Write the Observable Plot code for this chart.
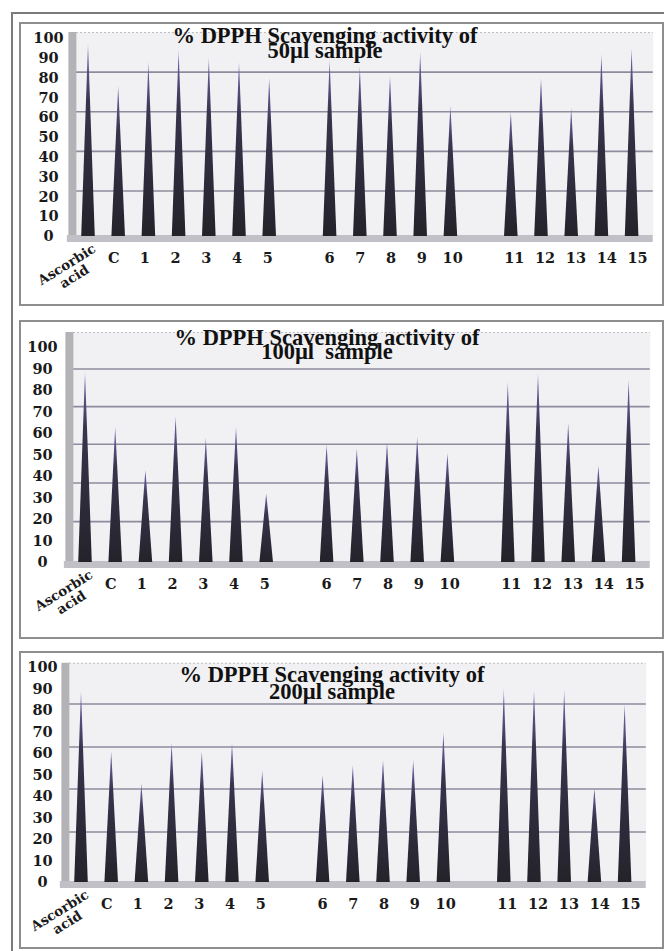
<!DOCTYPE html>
<html><head><meta charset="utf-8">
<script src="https://cdn.jsdelivr.net/npm/d3@7"></script>
<script src="https://cdn.jsdelivr.net/npm/@observablehq/plot@0.6"></script>
<style>
html,body{margin:0;padding:0;background:#fff}
body{width:664px;height:951px;overflow:hidden;position:relative}
.outer{position:absolute;left:11px;top:12px;width:720px;height:1000px;border:2px solid #7b7b7b;box-sizing:border-box}
.panel{position:absolute;left:19px;width:645px;border:2px solid #8e8e8e;box-sizing:border-box}
.chart{position:absolute;left:0}
.chart svg{overflow:visible;display:block}
.title{position:absolute;width:440px;font:bold 22.5px "Liberation Serif",serif;text-align:center;white-space:pre;color:#111}
</style>
</head><body>
<div class="outer"></div>
<script>
// ---- data ----
const categories = ["Ascorbic acid","C","1","2","3","4","5","","6","7","8","9","10","","11","12","13","14","15"];
const values50  = [97, 76, 88, 94, 90, 88, 80, null, 89, 86, 81, 93, 66, null, 63, 80, 65, 92, 95];
const values100 = [88.5, 63, 43, 68, 58, 63, 32, null, 55, 53, 56, 58.5, 51, null, 84, 88, 65, 45, 85];
const values200 = [89, 61, 46, 65, 61, 65, 52, null, 50, 54.5, 57, 57, 70, null, 90, 89.5, 89.5, 44, 83];
const yTickLabels = [0,10,20,30,40,50,60,70,80,90,100];
const grid50  = [23, 43, 63, 83];
const grid100 = [19, 37, 55, 72.5, 90];
const grid200 = [23.5, 43.5, 63, 83];
const titleMain = "% DPPH Scavenging activity of";
const titles = ["50µl sample", "100µl  sample", "200µl sample"];

// ---- layout ----
const W = 664, slotPx = 30.2, xMin = -0.4, xMax = 18.7, coneHalf = 0.225;
const panels = [
  {values: values50,  grid: grid50,  sub: titles[0], boxTop: 22,  boxH: 284, y0: 236, unit: 1.98, topVal: 103, slot0: 88, yLabelX: 48, titleX: 325, titleTop: 28,  lh: 15},
  {values: values100, grid: grid100, sub: titles[1], boxTop: 320, boxH: 319, y0: 562, unit: 2.15, topVal: 107, slot0: 85, yLabelX: 42, titleX: 327, titleTop: 331, lh: 14},
  {values: values200, grid: grid200, sub: titles[2], boxTop: 651, boxH: 298, y0: 882, unit: 2.15, topVal: 102, slot0: 81, yLabelX: 42, titleX: 332, titleTop: 666, lh: 17}
];

const labelFont = "'DejaVu Serif', serif";

panels.forEach((p, pi) => {
  const box = document.createElement("div");
  box.className = "panel";
  box.style.top = p.boxTop + "px";
  box.style.height = p.boxH + "px";
  document.body.appendChild(box);

  const H = p.boxH;
  const marginLeft = p.slot0 + xMin * slotPx;
  const marginRight = W - (p.slot0 + xMax * slotPx);
  const marginBottom = H - (p.y0 - p.boxTop);
  const marginTop = (p.y0 - p.topVal * p.unit) - p.boxTop;

  const cones = [];
  p.values.forEach((v, i) => {
    if (v == null) return;
    cones.push({k: i, x: i - coneHalf, y: 0});
    cones.push({k: i, x: i, y: v});
    cones.push({k: i, x: i + coneHalf, y: 0});
  });
  const xLabels = categories.map((c, i) => ({c, i})).filter(d => d.c !== "" && d.i > 0);
  const gid = "coneGrad" + pi;

  const chart = Plot.plot({
    width: W, height: H,
    marginLeft, marginRight, marginTop, marginBottom,
    x: {domain: [xMin, xMax], axis: null},
    y: {domain: [0, p.topVal], axis: null},
    marks: [
      Plot.frame({fill: "#f1f1f4", stroke: null}),
      Plot.ruleY([p.topVal], {stroke: "#b8b8c2", strokeDasharray: "2,2", strokeWidth: 1}),
      Plot.ruleY(p.grid, {stroke: "#8f8a9c", strokeWidth: 1.6}),
      Plot.ruleX([xMin], {stroke: "#b2b2b7", strokeWidth: 8, dx: -4}),
      Plot.ruleY([0], {x1: xMin - 0.3, x2: xMax, stroke: "#c0c0c6", strokeWidth: 7, dy: 2}),
      Plot.areaY(cones, {x: "x", y: "y", z: "k", fill: `url(#${gid})`, curve: "linear"}),
      Plot.text(yTickLabels, {frameAnchor: "left", y: d => d, text: d => String(d), dx: p.yLabelX - marginLeft,
        textAnchor: "middle", fontWeight: "bold", fontSize: 14.5, fontFamily: labelFont, fill: "#1a1a1a"}),
      Plot.text(xLabels, {x: d => 9 + (d.i - 9) * 1.02, y: () => 0, text: "c", dy: 22,
        textAnchor: "middle", fontWeight: "bold", fontSize: 14.5, fontFamily: labelFont, fill: "#1a1a1a"}),
      Plot.text([categories[0]], {x: () => 0, y: () => 0, text: d => d.replace(" ", "\n"), rotate: -32,
        dx: -18, dy: 34, lineHeight: 1.05, textAnchor: "middle",
        fontWeight: "bold", fontSize: 13.5, fontFamily: labelFont, fill: "#1a1a1a"})
    ]
  });

  const ns = "http://www.w3.org/2000/svg";
  const defs = document.createElementNS(ns, "defs");
  const lg = document.createElementNS(ns, "linearGradient");
  lg.setAttribute("id", gid);
  lg.setAttribute("x1", "0"); lg.setAttribute("y1", "0");
  lg.setAttribute("x2", "0"); lg.setAttribute("y2", "1");
  [["0", "#a89bd6"], ["0.07", "#6a5c9c"], ["0.3", "#38344d"], ["1", "#24232a"]].forEach(([o, c]) => {
    const s = document.createElementNS(ns, "stop");
    s.setAttribute("offset", o); s.setAttribute("stop-color", c);
    lg.appendChild(s);
  });
  defs.appendChild(lg);
  chart.insertBefore(defs, chart.firstChild);

  const holder = document.createElement("div");
  holder.className = "chart";
  holder.style.top = p.boxTop + "px";
  holder.appendChild(chart);
  document.body.appendChild(holder);

  const t = document.createElement("div");
  t.className = "title";
  t.style.left = (p.titleX - 220) + "px";
  t.style.top = p.titleTop + "px";
  t.style.lineHeight = p.lh + "px";
  t.textContent = titleMain + "\n" + p.sub;
  document.body.appendChild(t);
});
</script>
</body></html>
